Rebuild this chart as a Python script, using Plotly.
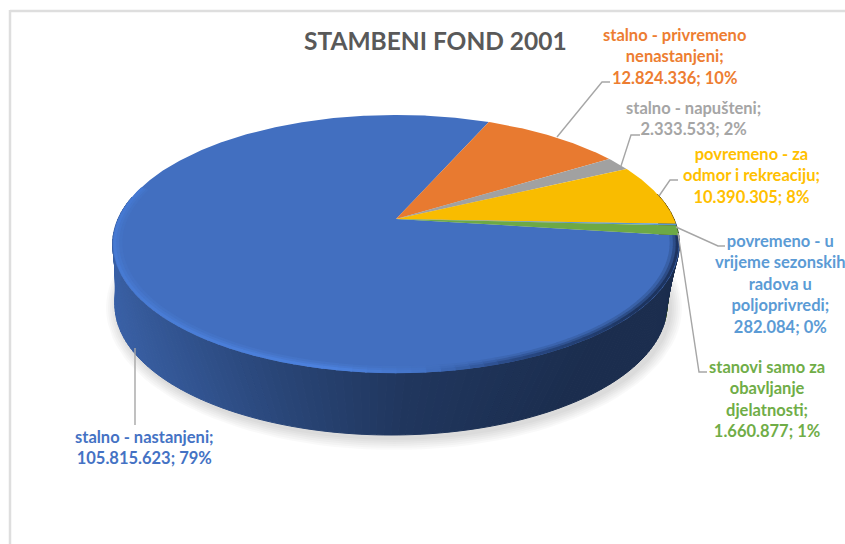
import numpy as np
import plotly.graph_objects as go

# data
categories = [
    'stalno - nastanjeni;',
    'stalno - privremeno<br>nenastanjeni;',
    'stalno - napušteni;',
    'povremeno - za<br>odmor i rekreaciju;',
    'povremeno - u<br>vrijeme sezonskih<br>radova u<br>poljoprivredi;',
    'stanovi samo za<br>obavljanje<br>djelatnosti;',
]
values = [105815623, 12824336, 2333533, 10390305, 282084, 1660877]
colors = ['#4472C4', '#ED7D31', '#A5A5A5', '#FFC000', '#5B9BD5', '#70AD47']
title_text = 'STAMBENI FOND 2001'

# label placement, in page pixels
label_x = [144, 674, 693, 751, 780, 767]
label_y = [447, 56, 118, 175, 284, 399]
leaders = [
    ([135, 135], [348, 425]),
    ([557, 602, 610], [137, 82, 82]),
    ([621, 631, 640], [166, 135, 135]),
    ([659, 670, 678], [196, 180, 180]),
    ([676, 718, 725], [227, 246, 246]),
    ([678, 699, 707], [233, 372, 372]),
]

# pie projection: the top face is a circle seen in perspective
ROTATION = 97.4
CX, CY, A, B, K = 396, 219, 278, 124.2, 0.1935
# bottom face of the slab
BX, BY, BA, BB = 391, 305, 276, 130

PAGE_W, PAGE_H = 845, 544


def top_point(deg, r=1.0):
    t = np.radians(deg)
    u, v = r * np.sin(t), -r * np.cos(t)
    d = 1 - K * v
    return CX + A * u / d, CY + B * v / d


def bottom_point(deg):
    t = np.radians(deg)
    return BX + BA * np.sin(t), BY - BB * np.cos(t)


def shade(hex_color, f):
    rgb = [int(hex_color[i:i + 2], 16) for i in (1, 3, 5)]
    return 'rgb(%d,%d,%d)' % tuple(min(255, c * f) for c in rgb)


def mix(c1, c2, t):
    return 'rgb(%d,%d,%d)' % tuple(a + (b - a) * t for a, b in zip(c1, c2))


total = sum(values)
sweeps = [v / total * 360 for v in values]
starts = [ROTATION + sum(sweeps[:i]) for i in range(len(values))]


def slice_color(deg):
    deg = (deg - ROTATION) % 360
    for s, sw, c in zip(starts, sweeps, colors):
        if deg <= (s - ROTATION) + sw:
            return c
    return colors[0]


fig = go.Figure()


def add_poly(xs, ys, fill, stroke=0):
    fig.add_trace(go.Scatter(x=xs, y=ys, mode='lines', fill='toself', fillcolor=fill,
                             line=dict(width=stroke, color=fill), hoverinfo='skip', showlegend=False))


# soft shadow under the slab
ring = np.radians(np.arange(0, 361, 3))
for grow in [12, 10, 8, 6, 4, 2]:
    add_poly(BX + 3 + (BA + grow) * np.sin(ring), BY + 3 - (BB + grow) * np.cos(ring),
             'rgba(0,0,0,0.022)')

# side wall, strip by strip
wall_angles = np.arange(78, 282, 1.5)
for a0, a1 in zip(wall_angles[:-1], wall_angles[1:]):
    x0, y0 = top_point(a0)
    x1, y1 = top_point(a1)
    x2, y2 = bottom_point(a1)
    x3, y3 = bottom_point(a0)
    f = np.interp((x2 + x3) / 2, [115, 200, 300, 400, 480, 560], [0.85, 0.74, 0.6, 0.48, 0.44, 0.40])
    add_poly([x0, x1, x2, x3, x0], [y0, y1, y2, y3, y0], shade(slice_color((a0 + a1) / 2), f), stroke=1)

# top face
for s, sw, c in zip(starts, sweeps, colors):
    angles = np.linspace(s, s + sw, max(3, int(sw * 2)))
    px, py = top_point(angles)
    add_poly(np.r_[CX, px, CX], np.r_[CY, py, CY], shade(c, 0.98))

# rim bevel on the blue slice: light on the left, dark on the right
face = (67, 112, 192)
rim_deg = [97.4, 130, 160, 176, 190, 230, 275]
rim_r = [26, 24, 38, 68, 78, 74, 70]
rim_g = [45, 44, 68, 116, 132, 126, 122]
rim_b = [85, 82, 125, 200, 226, 216, 212]
rim_angles = np.arange(97.4, 285, 2.5)
for radius, t, w in [(0.974, 0.78, 4), (0.984, 0.48, 3.5), (0.993, 0.12, 3)]:
    for a0, a1 in zip(rim_angles[:-1], rim_angles[1:]):
        mid = (a0 + a1) / 2
        rim = (np.interp(mid, rim_deg, rim_r), np.interp(mid, rim_deg, rim_g), np.interp(mid, rim_deg, rim_b))
        px, py = top_point(np.array([a0, a1 + 0.3]), radius)
        fig.add_trace(go.Scatter(x=px, y=py, mode='lines', hoverinfo='skip', showlegend=False,
                                 line=dict(color=mix(rim, face, t), width=w)))

# leader lines
for lx, ly in leaders:
    fig.add_trace(go.Scatter(x=lx, y=ly, mode='lines', hoverinfo='skip', showlegend=False,
                             line=dict(color='#A6A6A6', width=1.4)))

# data labels
annotations = []
for name, v, c, lx, ly in zip(categories, values, colors, label_x, label_y):
    number = f'{v:,}'.replace(',', '.')
    pct = round(v / total * 100)
    text = f'{name}<br>{number}; {pct}%'
    text = '<b>' + text.replace('<br>', '</b><br><b>') + '</b>'
    annotations.append(dict(x=lx, y=ly, xref='x', yref='y', showarrow=False, align='center',
                            text=text, font=dict(family='Lato', size=16.5, color=c)))
annotations.append(dict(x=435, y=40, xref='x', yref='y', showarrow=False,
                        text=f'<b>{title_text}</b>',
                        font=dict(family='Lato', size=24.5, color='#595959')))

# chart area frame
frame = [
    dict(type='line', x0=10, x1=10, y0=10, y1=PAGE_H, xref='x', yref='y', line=dict(color='#DEDEDE', width=2.5)),
    dict(type='line', x0=10, x1=PAGE_W, y0=11, y1=11, xref='x', yref='y', line=dict(color='#DEDEDE', width=2.5)),
]

fig.update_layout(
    width=PAGE_W,
    height=PAGE_H,
    margin=dict(l=0, r=0, t=0, b=0),
    paper_bgcolor='white',
    plot_bgcolor='white',
    showlegend=False,
    annotations=annotations,
    shapes=frame,
    xaxis=dict(range=[0, PAGE_W], visible=False, fixedrange=True),
    yaxis=dict(range=[PAGE_H, 0], visible=False, fixedrange=True),
)

# drop the page's default body margin so the figure fills the window
fig.write_html("out.html", config=dict(displayModeBar=False),
               post_script="document.body.style.margin = '0';")
